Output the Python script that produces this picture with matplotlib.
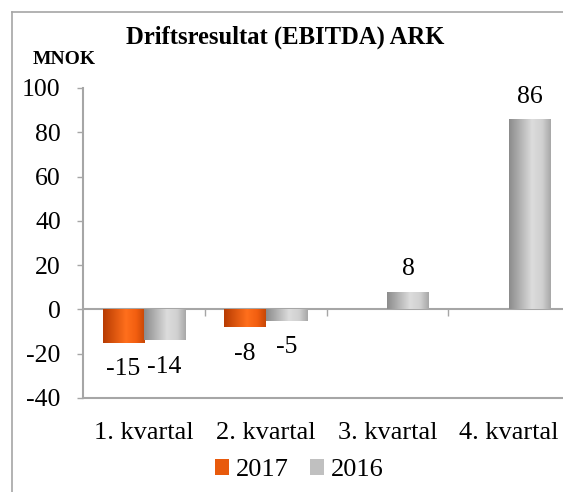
import numpy as np
import matplotlib
matplotlib.use("Agg")
import matplotlib.pyplot as plt
from matplotlib.colors import LinearSegmentedColormap
from matplotlib.patches import Patch
from matplotlib.lines import Line2D

categories = ["1. kvartal", "2. kvartal", "3. kvartal", "4. kvartal"]
series_names = ["2017", "2016"]
values_2017 = [-15, -8, None, None]
values_2016 = [-14, -5, 8, 86]
yticks = [-40, -20, 0, 20, 40, 60, 80, 100]

plt.rcParams['font.family'] = ['Liberation Serif', 'DejaVu Serif']

W, H = 563, 492
fig = plt.figure(figsize=(W / 100, H / 100), dpi=100)
ax = fig.add_axes([83 / W, 1 - 398 / H, (570 - 83) / W, (398 - 88) / H])

grey_line = '#a6a6a6'
orange_cmap = LinearSegmentedColormap.from_list(
    'o', [(0, '#b83c02'), (0.55, '#ff6f1c'), (0.8, '#f25e10'), (1, '#c84806')])
grey_cmap = LinearSegmentedColormap.from_list(
    'g', [(0, '#8c8c8c'), (0.55, '#dcdcdc'), (0.8, '#d0d0d0'), (1, '#a8a8a8')])
legend_colors = ['#e85a0c', '#c0c0c0']

bw = 0.338
x = np.arange(len(categories))
grad = np.linspace(0, 1, 64).reshape(1, -1)

def draw(vals, offset, cmap):
    for xi, v in zip(x, vals):
        if v is None:
            continue
        b = ax.bar(xi + offset, v, width=bw, color='none', edgecolor='none', zorder=2)[0]
        x0 = xi + offset - bw / 2
        im = ax.imshow(grad, extent=[x0, x0 + bw, min(0, v), max(0, v)],
                       aspect='auto', cmap=cmap, zorder=2, interpolation='bilinear')
        im.set_clip_path(b)
        if v < 0:
            ax.annotate(str(v), (xi + offset, v), xytext=(0, -19), textcoords='offset points',
                        ha='center', va='center', fontsize=18.5)
        else:
            ax.annotate(str(v), (xi + offset, v), xytext=(0, 16), textcoords='offset points',
                        ha='center', va='center', fontsize=18.5)

draw(values_2017, -bw / 2, orange_cmap)
draw(values_2016, bw / 2, grey_cmap)

ax.set_xlim(-0.5, len(categories) - 0.5)
ax.set_ylim(-40, 100)
ax.set_yticks(yticks)
ax.set_yticklabels([str(t) for t in yticks], fontsize=18.5)
ax.tick_params(axis='y', direction='out', length=4, width=1, color=grey_line, pad=12)
ax.set_xticks(x)
ax.set_xticklabels(categories, fontsize=19)
ax.tick_params(axis='x', length=0, pad=17)
for s in ['top', 'right']:
    ax.spines[s].set_visible(False)
for s in ['left', 'bottom']:
    ax.spines[s].set_color(grey_line)
    ax.spines[s].set_linewidth(1.5)

sec = ax.secondary_xaxis(40 / 140)
sec.set_xticks(np.arange(len(categories) - 1) + 0.5)
sec.set_xticklabels([])
sec.tick_params(direction='out', length=5, width=1, color=grey_line)
sec.spines['bottom'].set_color(grey_line)
sec.spines['bottom'].set_linewidth(1.5)
for s in ['top', 'left', 'right']:
    if s in sec.spines:
        sec.spines[s].set_visible(False)

fig.text(285 / W, 1 - 37 / H, "Driftsresultat (EBITDA) ARK", ha='center', va='center',
         fontsize=17.7, fontweight='bold')
fig.text(33 / W, 1 - 59 / H, "MNOK", ha='left', va='center', fontsize=14, fontweight='bold')

handles = [Patch(facecolor=c, edgecolor='none') for c in legend_colors]
fig.legend(handles, series_names, loc='center', bbox_to_anchor=(299 / W, 1 - 470 / H),
           ncol=2, frameon=False, fontsize=19, handlelength=0.55, handleheight=0.55,
           handletextpad=0.25, columnspacing=0.8)

fig.add_artist(Line2D([12 / W, 1.0], [1 - 12 / H, 1 - 12 / H], color=grey_line, lw=1.2))
fig.add_artist(Line2D([12 / W, 12 / W], [1 - 12 / H, 0], color=grey_line, lw=1.2))

fig.savefig('out.png', dpi=100)
